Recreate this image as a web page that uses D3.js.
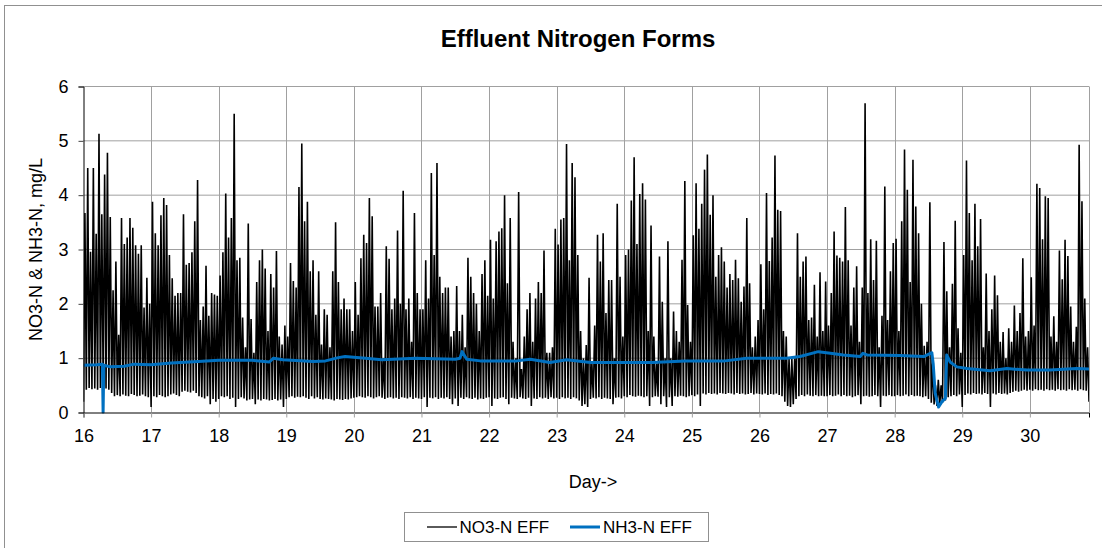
<!DOCTYPE html>
<html>
<head>
<meta charset="utf-8">
<script src="https://cdn.jsdelivr.net/npm/d3@7"></script>
<style>
  body { margin: 0; background: #fff; }
  text { font-family: "Liberation Sans", Arial, sans-serif; fill: #000; }
  .axis text { font-size: 18px; }
</style>
</head>
<body>
<svg id="chart"></svg>
<script>
// days on the x axis, one row of hourly peaks / troughs per day
var days = [16, 17, 18, 19, 20, 21, 22, 23, 24, 25, 26, 27, 28, 29, 30];
var xTicks = [16, 17, 18, 19, 20, 21, 22, 23, 24, 25, 26, 27, 28, 29, 30];
var yTicks = [0, 1, 2, 3, 4, 5, 6];

var no3Peaks = [
  [3.67, 4.5, 2.96, 4.5, 3.29, 5.13, 3.65, 4.38, 4.78, 3.6, 2.25, 2.78, 1.43, 3.58, 3.1, 3.22, 3.58, 3.4, 3.08, 2.92, 3.08, 1.93, 2.48, 2.0],
  [3.88, 3.3, 3.08, 3.63, 3.95, 3.82, 2.9, 2.47, 2.15, 2.2, 2.2, 3.65, 2.72, 2.75, 2.95, 3.52, 4.28, 1.7, 1.95, 2.7, 1.78, 2.2, 2.17, 2.15],
  [2.52, 2.95, 4.03, 3.22, 3.58, 5.5, 2.8, 2.85, 1.75, 1.2, 3.48, 1.72, 1.1, 2.4, 2.8, 3.0, 2.65, 1.5, 2.55, 2.3, 2.97, 1.4, 1.25, 1.6],
  [1.4, 2.75, 2.42, 2.3, 4.15, 4.95, 3.52, 3.88, 2.6, 2.8, 1.8, 2.6, 1.25, 1.9, 1.8, 1.2, 2.6, 3.5, 2.4, 1.9, 2.1, 1.9, 1.9, 1.5],
  [2.4, 1.8, 2.84, 3.27, 3.12, 3.95, 3.61, 1.95, 1.95, 2.2, 1.0, 3.06, 2.83, 1.9, 2.1, 3.35, 2.0, 4.08, 1.9, 2.1, 1.3, 3.67, 2.2, 1.9],
  [1.9, 2.8, 2.1, 4.41, 2.9, 4.59, 2.5, 2.2, 2.3, 2.3, 1.4, 1.5, 2.33, 1.5, 1.8, 1.2, 2.85, 2.5, 2.2, 2.0, 1.5, 2.55, 2.8, 2.15],
  [3.18, 2.1, 3.15, 3.33, 3.39, 4.0, 2.38, 3.58, 1.3, 1.0, 4.06, 0.8, 1.4, 1.9, 2.2, 1.3, 2.1, 2.4, 2.2, 2.98, 1.1, 1.1, 1.2, 3.38],
  [3.09, 3.55, 3.58, 4.94, 2.8, 4.59, 4.33, 2.9, 1.5, 1.0, 1.24, 2.48, 0.9, 1.6, 3.27, 2.78, 3.3, 1.83, 2.44, 2.44, 1.0, 3.84, 2.5, 1.4],
  [2.9, 3.0, 3.9, 4.7, 3.1, 4.02, 4.22, 3.92, 1.5, 3.44, 1.4, 0.9, 2.87, 2.04, 1.0, 3.15, 1.0, 1.86, 1.5, 1.3, 2.81, 4.26, 1.98, 1.3],
  [3.26, 4.22, 3.38, 3.84, 4.47, 4.75, 3.64, 4.0, 2.5, 2.9, 3.04, 2.78, 2.3, 2.55, 2.44, 2.81, 2.47, 2.04, 2.32, 3.58, 2.38, 1.2, 1.4, 1.7],
  [2.73, 1.9, 4.04, 2.79, 3.22, 4.73, 3.73, 3.71, 1.5, 1.4, 1.0, 1.0, 1.0, 3.3, 2.5, 2.78, 2.87, 1.7, 1.75, 2.35, 1.4, 2.58, 1.5, 2.41],
  [1.6, 2.2, 3.33, 2.89, 2.85, 2.78, 3.78, 2.8, 1.6, 2.3, 2.69, 1.3, 2.3, 5.69, 2.2, 3.19, 2.44, 3.16, 1.2, 1.78, 4.16, 1.7, 2.6, 3.12],
  [3.2, 1.5, 3.52, 4.84, 4.1, 2.4, 4.65, 3.79, 3.3, 2.0, 1.23, 1.3, 3.87, 0.9, 0.5, 0.6, 0.5, 3.14, 2.23, 1.2, 2.37, 3.53, 1.55, 1.1],
  [2.9, 4.64, 3.67, 2.8, 3.84, 3.06, 3.56, 1.2, 2.56, 1.5, 1.9, 2.52, 2.16, 1.3, 1.48, 1.0, 1.55, 1.3, 1.97, 1.5, 1.83, 2.84, 1.4, 1.5],
  [2.49, 1.6, 4.21, 4.13, 3.19, 3.98, 3.95, 1.4, 1.77, 1.3, 2.98, 2.45, 3.18, 2.88, 1.95, 1.3, 1.58, 4.93, 3.89, 2.1, 1.2]
];

var no3Troughs = [
  [0.2, 0.42, 0.45, 0.43, 0.44, 0.42, 0.45, 0.43, 0.44, 0.42, 0.36, 0.3, 0.32, 0.3, 0.33, 0.31, 0.3, 0.34, 0.32, 0.3, 0.31, 0.33, 0.3, 0.28],
  [0.1, 0.3, 0.28, 0.32, 0.3, 0.28, 0.3, 0.33, 0.35, 0.32, 0.3, 0.38, 0.4, 0.38, 0.37, 0.4, 0.36, 0.3, 0.28, 0.26, 0.3, 0.15, 0.25, 0.2],
  [0.25, 0.3, 0.28, 0.3, 0.25, 0.27, 0.1, 0.25, 0.28, 0.26, 0.22, 0.24, 0.25, 0.15, 0.24, 0.22, 0.25, 0.24, 0.22, 0.23, 0.25, 0.22, 0.24, 0.1],
  [0.25, 0.28, 0.3, 0.27, 0.29, 0.28, 0.3, 0.27, 0.25, 0.3, 0.26, 0.28, 0.25, 0.24, 0.26, 0.25, 0.24, 0.22, 0.25, 0.24, 0.23, 0.25, 0.24, 0.26],
  [0.27, 0.28, 0.3, 0.28, 0.27, 0.3, 0.28, 0.26, 0.28, 0.3, 0.27, 0.25, 0.27, 0.28, 0.26, 0.27, 0.25, 0.28, 0.27, 0.26, 0.28, 0.25, 0.27, 0.26],
  [0.25, 0.28, 0.1, 0.27, 0.26, 0.28, 0.25, 0.27, 0.26, 0.28, 0.25, 0.15, 0.26, 0.12, 0.27, 0.25, 0.28, 0.26, 0.25, 0.27, 0.24, 0.26, 0.25, 0.27],
  [0.28, 0.12, 0.26, 0.25, 0.27, 0.28, 0.25, 0.15, 0.27, 0.26, 0.25, 0.28, 0.26, 0.25, 0.27, 0.12, 0.26, 0.25, 0.28, 0.26, 0.27, 0.25, 0.28, 0.26],
  [0.27, 0.25, 0.28, 0.26, 0.27, 0.25, 0.28, 0.26, 0.22, 0.12, 0.15, 0.1, 0.25, 0.27, 0.26, 0.28, 0.25, 0.27, 0.26, 0.25, 0.15, 0.27, 0.28, 0.26],
  [0.3, 0.28, 0.32, 0.3, 0.29, 0.31, 0.3, 0.28, 0.3, 0.12, 0.28, 0.3, 0.29, 0.15, 0.3, 0.1, 0.28, 0.12, 0.3, 0.29, 0.31, 0.3, 0.28, 0.3],
  [0.32, 0.3, 0.33, 0.12, 0.35, 0.33, 0.36, 0.34, 0.35, 0.33, 0.36, 0.35, 0.34, 0.36, 0.35, 0.33, 0.36, 0.34, 0.35, 0.33, 0.34, 0.36, 0.33, 0.35],
  [0.34, 0.33, 0.35, 0.32, 0.34, 0.33, 0.35, 0.32, 0.3, 0.2, 0.12, 0.1, 0.15, 0.25, 0.3, 0.32, 0.3, 0.33, 0.31, 0.3, 0.32, 0.3, 0.31, 0.3],
  [0.3, 0.32, 0.3, 0.31, 0.33, 0.3, 0.32, 0.3, 0.31, 0.28, 0.3, 0.32, 0.15, 0.3, 0.31, 0.29, 0.3, 0.32, 0.3, 0.1, 0.31, 0.3, 0.32, 0.3],
  [0.3, 0.32, 0.3, 0.31, 0.33, 0.3, 0.32, 0.3, 0.31, 0.3, 0.28, 0.3, 0.25, 0.18, 0.15, 0.12, 0.15, 0.18, 0.22, 0.28, 0.3, 0.32, 0.3, 0.33],
  [0.1, 0.32, 0.35, 0.33, 0.36, 0.34, 0.35, 0.33, 0.36, 0.34, 0.1, 0.35, 0.33, 0.36, 0.34, 0.35, 0.33, 0.36, 0.38, 0.4, 0.38, 0.4, 0.42, 0.4],
  [0.42, 0.4, 0.43, 0.41, 0.42, 0.4, 0.43, 0.41, 0.42, 0.4, 0.43, 0.41, 0.42, 0.4, 0.43, 0.41, 0.42, 0.4, 0.43, 0.41, 0.4, 0.2]
];

// NH3-N, read at the points where the slow line bends
var nh3Day = [16.0, 16.2, 16.28, 16.29, 16.3, 16.4, 16.6, 16.75, 17.0, 17.3, 17.7, 18.0, 18.5, 18.75, 18.81, 18.95, 19.4, 19.58, 19.77, 19.87, 20.17, 20.41, 20.91, 21.5, 21.57, 21.6, 21.67, 21.87, 22.41, 22.61, 22.9, 23.15, 23.5, 24.41, 24.9, 25.49, 25.81, 26.4, 26.6, 26.87, 27.05, 27.24, 27.49, 27.53, 27.59, 28.08, 28.43, 28.55, 28.57, 28.6, 28.65, 28.7, 28.75, 28.77, 28.82, 28.92, 29.07, 29.41, 29.66, 29.96, 30.3, 30.69, 30.875];
var nh3Val = [0.87, 0.88, 0.89, 0.0, 0.87, 0.84, 0.85, 0.89, 0.88, 0.91, 0.94, 0.96, 0.96, 0.93, 1.0, 0.97, 0.94, 0.95, 1.01, 1.03, 1.0, 0.97, 1.0, 0.98, 1.0, 1.12, 0.98, 0.95, 0.95, 0.98, 0.92, 0.97, 0.92, 0.92, 0.95, 0.95, 1.0, 1.0, 1.03, 1.12, 1.09, 1.06, 1.03, 1.09, 1.06, 1.05, 1.03, 1.1, 0.9, 0.35, 0.1, 0.2, 0.26, 1.06, 0.93, 0.84, 0.81, 0.77, 0.81, 0.78, 0.78, 0.81, 0.8];

var w = 1102;
var h = 548;
var padding = {
  top: 86.5,
  bottom: 135.5,
  left: 83.5,
  right: 13
};
var gridColor = "#a0a0a0";
var blue = "#0070c0";

var svg = d3.select("#chart")
  .attr("width", w)
  .attr("height", h);

// outer chart border (only top/left visible in frame)
svg.append("rect")
  .attr("x", 4.5).attr("y", 5.5)
  .attr("width", 1200).attr("height", 700)
  .attr("fill", "none")
  .attr("stroke", "#909090");

var xScale = d3.scaleLinear()
  .domain([16, 30.875])
  .range([padding.left, w - padding.right]);

var yScale = d3.scaleLinear()
  .domain([0, 6])
  .range([h - padding.bottom, padding.top]);

//gridlines
svg.append("g")
  .selectAll("line")
  .data(yTicks.slice(1))
  .enter().append("line")
  .attr("x1", padding.left).attr("x2", w - padding.right)
  .attr("y1", function(d) { return yScale(d); })
  .attr("y2", function(d) { return yScale(d); })
  .attr("stroke", gridColor);

svg.append("g")
  .selectAll("line")
  .data(xTicks.slice(1))
  .enter().append("line")
  .attr("x1", function(d) { return Math.round(xScale(d)) + 0.5; })
  .attr("x2", function(d) { return Math.round(xScale(d)) + 0.5; })
  .attr("y1", padding.top).attr("y2", h - padding.bottom)
  .attr("stroke", gridColor);

// right edge of plot area
svg.append("line")
  .attr("x1", w - padding.right + 0.5).attr("x2", w - padding.right + 0.5)
  .attr("y1", padding.top).attr("y2", h - padding.bottom)
  .attr("stroke", gridColor);

// build the NO3 trace: trough, peak, trough, ... one spike per hour
var no3 = [];
days.forEach(function(d, k) {
  var pk = no3Peaks[k];
  no3Troughs[k].forEach(function(v, i) {
    no3.push([d + i / 24, v]);
    if (i < pk.length) no3.push([d + (i + 0.5) / 24, pk[i]]);
  });
});

var nh3 = nh3Day.map(function(d, i) { return [d, nh3Val[i]]; });

var line = d3.line()
  .x(function(d) { return xScale(d[0]); })
  .y(function(d) { return yScale(d[1]); });

svg.append("defs").append("clipPath")
  .attr("id", "plot")
  .append("rect")
  .attr("x", padding.left).attr("y", padding.top - 2)
  .attr("width", w - padding.right - padding.left)
  .attr("height", h - padding.bottom - padding.top + 3);

svg.append("path")
  .datum(no3)
  .attr("clip-path", "url(#plot)")
  .attr("d", line)
  .attr("fill", "none")
  .attr("stroke", "#000")
  .attr("stroke-width", 1.6);

svg.append("path")
  .datum(nh3)
  .attr("clip-path", "url(#plot)")
  .attr("d", line)
  .attr("fill", "none")
  .attr("stroke", blue)
  .attr("stroke-width", 3)
  .attr("stroke-linejoin", "round");

// axes
var yAxis = d3.axisLeft(yScale)
  .tickValues(yTicks)
  .tickFormat(d3.format("d"))
  .tickSize(5)
  .tickPadding(10);

var xAxis = d3.axisBottom(xScale)
  .tickValues(xTicks)
  .tickFormat(d3.format("d"))
  .tickSize(5)
  .tickPadding(12);

var gx = svg.append("g")
  .attr("class", "axis")
  .attr("transform", "translate(0," + (h - padding.bottom) + ")")
  .call(xAxis);
gx.select(".domain").attr("stroke", "#000");
gx.selectAll(".tick line").attr("stroke", gridColor);

var gy = svg.append("g")
  .attr("class", "axis")
  .attr("transform", "translate(" + padding.left + ",0)")
  .call(yAxis);
gy.select(".domain").attr("stroke", "#000");
gy.selectAll(".tick line").attr("stroke", "#404040");

// titles
svg.append("text")
  .text("Effluent Nitrogen Forms")
  .attr("x", 578)
  .attr("y", 47)
  .attr("text-anchor", "middle")
  .attr("font-size", 24)
  .attr("font-weight", "bold");

svg.append("text")
  .text("Day->")
  .attr("x", 593)
  .attr("y", 488)
  .attr("text-anchor", "middle")
  .attr("font-size", 18);

svg.append("text")
  .text("NO3-N & NH3-N, mg/L")
  .attr("text-anchor", "middle")
  .attr("font-size", 18)
  .attr("transform", "translate(41.5," + ((padding.top + h - padding.bottom) / 2) + ") rotate(-90)");

//key
var key = svg.append("g");
key.append("rect")
  .attr("x", 404.5).attr("y", 512.5)
  .attr("width", 304).attr("height", 29)
  .attr("fill", "#fff")
  .attr("stroke", "#909090");
key.append("line")
  .attr("x1", 427).attr("x2", 457)
  .attr("y1", 527).attr("y2", 527)
  .attr("stroke", "#000").attr("stroke-width", 1.3);
key.append("text")
  .text("NO3-N EFF")
  .attr("x", 459.5).attr("y", 533)
  .attr("font-size", 17);
key.append("line")
  .attr("x1", 570).attr("x2", 600)
  .attr("y1", 527).attr("y2", 527)
  .attr("stroke", blue).attr("stroke-width", 3);
key.append("text")
  .text("NH3-N EFF")
  .attr("x", 603).attr("y", 533)
  .attr("font-size", 17);
</script>
</body>
</html>
